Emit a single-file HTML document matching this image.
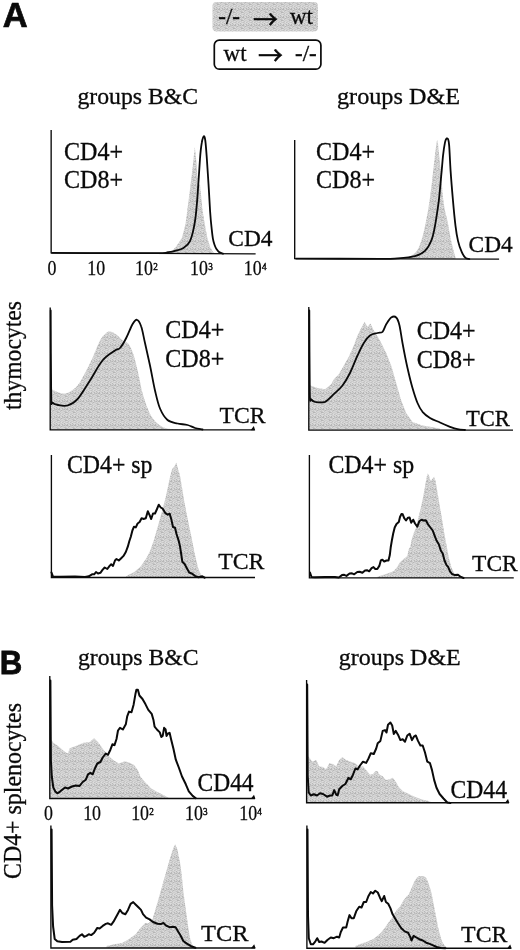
<!DOCTYPE html>
<html lang="en">
<head>
<meta charset="utf-8">
<title>Figure</title>
<style>
html,body{margin:0;padding:0;background:#fff;}
body{width:520px;height:950px;overflow:hidden;}
svg{display:block;filter:grayscale(1);}
text{fill:#0a0a0a;}
</style>
</head>
<body>
<svg width="520" height="950" viewBox="0 0 520 950">
<defs>
<pattern id="stip" x="0" y="0" width="8" height="8" patternUnits="userSpaceOnUse">
<rect x="0" y="0" width="1" height="1" fill="#cecece"/>
<rect x="1" y="0" width="1" height="1" fill="#c2c2c2"/>
<rect x="2" y="0" width="1" height="1" fill="#d6d6d6"/>
<rect x="3" y="0" width="1" height="1" fill="#b6b6b6"/>
<rect x="4" y="0" width="1" height="1" fill="#d6d6d6"/>
<rect x="5" y="0" width="1" height="1" fill="#cecece"/>
<rect x="6" y="0" width="1" height="1" fill="#b6b6b6"/>
<rect x="7" y="0" width="1" height="1" fill="#d6d6d6"/>
<rect x="0" y="1" width="1" height="1" fill="#b6b6b6"/>
<rect x="1" y="1" width="1" height="1" fill="#cecece"/>
<rect x="2" y="1" width="1" height="1" fill="#b6b6b6"/>
<rect x="3" y="1" width="1" height="1" fill="#b6b6b6"/>
<rect x="4" y="1" width="1" height="1" fill="#cecece"/>
<rect x="5" y="1" width="1" height="1" fill="#dedede"/>
<rect x="6" y="1" width="1" height="1" fill="#c2c2c2"/>
<rect x="7" y="1" width="1" height="1" fill="#c2c2c2"/>
<rect x="0" y="2" width="1" height="1" fill="#d6d6d6"/>
<rect x="1" y="2" width="1" height="1" fill="#cacaca"/>
<rect x="2" y="2" width="1" height="1" fill="#d6d6d6"/>
<rect x="3" y="2" width="1" height="1" fill="#cecece"/>
<rect x="4" y="2" width="1" height="1" fill="#cacaca"/>
<rect x="5" y="2" width="1" height="1" fill="#b6b6b6"/>
<rect x="6" y="2" width="1" height="1" fill="#cacaca"/>
<rect x="7" y="2" width="1" height="1" fill="#cecece"/>
<rect x="0" y="3" width="1" height="1" fill="#c2c2c2"/>
<rect x="1" y="3" width="1" height="1" fill="#c2c2c2"/>
<rect x="2" y="3" width="1" height="1" fill="#cecece"/>
<rect x="3" y="3" width="1" height="1" fill="#dedede"/>
<rect x="4" y="3" width="1" height="1" fill="#c2c2c2"/>
<rect x="5" y="3" width="1" height="1" fill="#d6d6d6"/>
<rect x="6" y="3" width="1" height="1" fill="#d6d6d6"/>
<rect x="7" y="3" width="1" height="1" fill="#cecece"/>
<rect x="0" y="4" width="1" height="1" fill="#d6d6d6"/>
<rect x="1" y="4" width="1" height="1" fill="#b6b6b6"/>
<rect x="2" y="4" width="1" height="1" fill="#b6b6b6"/>
<rect x="3" y="4" width="1" height="1" fill="#c2c2c2"/>
<rect x="4" y="4" width="1" height="1" fill="#d6d6d6"/>
<rect x="5" y="4" width="1" height="1" fill="#cecece"/>
<rect x="6" y="4" width="1" height="1" fill="#cecece"/>
<rect x="7" y="4" width="1" height="1" fill="#d6d6d6"/>
<rect x="0" y="5" width="1" height="1" fill="#cecece"/>
<rect x="1" y="5" width="1" height="1" fill="#cecece"/>
<rect x="2" y="5" width="1" height="1" fill="#dedede"/>
<rect x="3" y="5" width="1" height="1" fill="#d6d6d6"/>
<rect x="4" y="5" width="1" height="1" fill="#c2c2c2"/>
<rect x="5" y="5" width="1" height="1" fill="#d6d6d6"/>
<rect x="6" y="5" width="1" height="1" fill="#d6d6d6"/>
<rect x="7" y="5" width="1" height="1" fill="#cacaca"/>
<rect x="0" y="6" width="1" height="1" fill="#dedede"/>
<rect x="1" y="6" width="1" height="1" fill="#cecece"/>
<rect x="2" y="6" width="1" height="1" fill="#cacaca"/>
<rect x="3" y="6" width="1" height="1" fill="#c2c2c2"/>
<rect x="4" y="6" width="1" height="1" fill="#cecece"/>
<rect x="5" y="6" width="1" height="1" fill="#dedede"/>
<rect x="6" y="6" width="1" height="1" fill="#c2c2c2"/>
<rect x="7" y="6" width="1" height="1" fill="#cecece"/>
<rect x="0" y="7" width="1" height="1" fill="#b6b6b6"/>
<rect x="1" y="7" width="1" height="1" fill="#d6d6d6"/>
<rect x="2" y="7" width="1" height="1" fill="#dedede"/>
<rect x="3" y="7" width="1" height="1" fill="#d6d6d6"/>
<rect x="4" y="7" width="1" height="1" fill="#cacaca"/>
<rect x="5" y="7" width="1" height="1" fill="#cecece"/>
<rect x="6" y="7" width="1" height="1" fill="#d6d6d6"/>
<rect x="7" y="7" width="1" height="1" fill="#d6d6d6"/>
</pattern>
</defs>
<rect x="0" y="0" width="520" height="950" fill="#ffffff"/>
<text x="2.7" y="26.8" font-family='"Liberation Sans", sans-serif' font-size="34.5" font-weight="bold" text-anchor="start" stroke="#0a0a0a" stroke-width="0.7">A</text>
<rect x="212.5" y="2" width="105.5" height="29.5" rx="4" ry="4" fill="url(#stip)"/>
<rect x="214.3" y="40.2" width="106.6" height="29" rx="5" ry="5" fill="#fff" stroke="#0a0a0a" stroke-width="1.7"/>
<text x="218.3" y="24.2" font-family='"Liberation Serif", serif' font-size="23" font-weight="normal" text-anchor="start" stroke="#0a0a0a" stroke-width="0.35">-/-</text>
<text x="252.9" y="28.6" font-family='"Noto Sans CJK SC", "DejaVu Sans", sans-serif' font-size="25" font-weight="normal" text-anchor="start" stroke="#0a0a0a" stroke-width="0.5">→</text>
<text x="290" y="24.2" font-family='"Liberation Serif", serif' font-size="23" font-weight="normal" text-anchor="start" stroke="#0a0a0a" stroke-width="0.3">wt</text>
<text x="223.6" y="60.6" font-family='"Liberation Serif", serif' font-size="23" font-weight="normal" text-anchor="start" stroke="#0a0a0a" stroke-width="0.3">wt</text>
<text x="257.9" y="64.6" font-family='"Noto Sans CJK SC", "DejaVu Sans", sans-serif' font-size="25" font-weight="normal" text-anchor="start" stroke="#0a0a0a" stroke-width="0.5">→</text>
<text x="295" y="60.6" font-family='"Liberation Serif", serif' font-size="23" font-weight="normal" text-anchor="start" stroke="#0a0a0a" stroke-width="0.35">-/-</text>
<text x="77.5" y="104" font-family='"Liberation Serif", serif' font-size="22.5" font-weight="normal" text-anchor="start" textLength="120.5" lengthAdjust="spacingAndGlyphs" stroke="#0a0a0a" stroke-width="0.3">groups B&amp;C</text>
<text x="337" y="104" font-family='"Liberation Serif", serif' font-size="22.5" font-weight="normal" text-anchor="start" textLength="123" lengthAdjust="spacingAndGlyphs" stroke="#0a0a0a" stroke-width="0.3">groups D&amp;E</text>
<path d="M170.5,252.6 L175.3,247.6 L179.0,242.6 L182.0,237.6 L185.5,224.1 L189.0,197.1 L192.4,169.6 L194.8,147.1 L196.3,161.1 L198.4,187.2 L199.9,183.4 L202.6,210.7 L205.0,225.2 L207.4,238.1 L210.0,246.7 L212.9,251.7 L214.5,253.0 L214.5,253.5 L170.5,253.5 Z" fill="url(#stip)" stroke="none"/>
<path d="M51.15,130 L51.15,252.9 L255.6,253.8" fill="none" stroke="#0a0a0a" stroke-width="1.35" stroke-linejoin="miter"/>
<path d="M52.0,252.9 C63.3,253.0 102.0,253.2 120.0,253.2 C138.0,253.3 152.0,253.3 160.0,253.2 C168.0,253.0 165.5,252.6 168.0,252.2 C170.5,251.8 172.6,251.5 175.0,250.8 C177.4,250.2 180.0,250.2 182.5,248.6 C185.0,247.0 187.9,245.7 190.0,241.1 C192.1,236.5 193.8,228.6 195.0,221.1 C196.2,213.6 196.7,206.6 197.5,196.1 C198.3,185.7 199.3,167.6 200.0,158.7 C200.7,149.7 201.2,146.2 201.8,142.7 C202.3,139.1 202.8,138.3 203.2,137.2 C203.6,136.1 203.7,136.1 204.0,136.2 C204.3,136.3 204.5,136.5 204.8,137.7 C205.1,138.8 205.3,140.0 205.6,143.2 C205.9,146.3 206.2,149.8 206.7,156.6 C207.2,163.4 207.9,174.8 208.5,183.9 C209.1,193.0 209.6,204.1 210.1,211.3 C210.6,218.5 211.0,222.7 211.5,227.2 C212.0,231.8 212.4,235.7 212.9,238.6 C213.4,241.5 213.9,243.0 214.5,244.7 C215.1,246.4 215.6,247.5 216.3,248.7 C217.1,249.9 217.9,251.2 219.0,252.0 C220.1,252.9 222.3,253.4 223.0,253.7" fill="none" stroke="#0a0a0a" stroke-width="1.8" stroke-linejoin="round" stroke-linecap="round"/>
<text x="64" y="160" font-family='"Liberation Serif", serif' font-size="24.3" font-weight="normal" text-anchor="start" textLength="59" lengthAdjust="spacingAndGlyphs" stroke="#0a0a0a" stroke-width="0.3">CD4+</text>
<text x="64" y="188.3" font-family='"Liberation Serif", serif' font-size="24.3" font-weight="normal" text-anchor="start" textLength="59" lengthAdjust="spacingAndGlyphs" stroke="#0a0a0a" stroke-width="0.3">CD8+</text>
<text x="228.3" y="246.3" font-family='"Liberation Serif", serif' font-size="23.8" font-weight="normal" text-anchor="start" textLength="44.2" lengthAdjust="spacingAndGlyphs" stroke="#0a0a0a" stroke-width="0.3">CD4</text>
<text transform="translate(52,275.3) scale(0.89,1)" font-family='"Liberation Serif", serif' font-size="20.1" text-anchor="middle" stroke="#0a0a0a" stroke-width="0.25">0</text>
<text transform="translate(96.3,275.3) scale(0.89,1)" font-family='"Liberation Serif", serif' font-size="20.1" text-anchor="middle" stroke="#0a0a0a" stroke-width="0.25">10</text>
<text transform="translate(146.4,275.3) scale(0.89,1)" font-family='"Liberation Serif", serif' font-size="20.1" text-anchor="middle" stroke="#0a0a0a" stroke-width="0.25">10<tspan font-size="10.3" dy="-5.2" dx="0.3" stroke-width="0.45">2</tspan></text>
<text transform="translate(201.4,275.3) scale(0.89,1)" font-family='"Liberation Serif", serif' font-size="20.1" text-anchor="middle" stroke="#0a0a0a" stroke-width="0.25">10<tspan font-size="10.3" dy="-5.2" dx="0.3" stroke-width="0.45">3</tspan></text>
<text transform="translate(255.2,275.3) scale(0.89,1)" font-family='"Liberation Serif", serif' font-size="20.1" text-anchor="middle" stroke="#0a0a0a" stroke-width="0.25">10<tspan font-size="10.3" dy="-5.2" dx="0.3" stroke-width="0.45">4</tspan></text>
<path d="M408.4,257.3 C409.3,256.7 412.2,255.3 413.9,253.8 C415.6,252.3 416.8,251.7 418.4,248.3 C420.0,244.9 421.7,240.0 423.4,233.3 C425.1,226.7 426.9,217.1 428.4,208.3 C429.8,199.6 431.0,190.0 432.1,180.8 C433.2,171.7 434.3,160.1 435.2,153.3 C436.1,146.6 436.7,140.3 437.3,140.3 C437.9,140.4 438.3,147.4 439.0,153.4 C439.7,159.3 440.5,167.5 441.2,175.9 C442.0,184.2 442.7,195.9 443.8,203.4 C444.8,210.9 446.2,214.6 447.5,220.9 C448.8,227.1 449.9,234.8 451.2,240.9 C452.6,247.0 454.8,254.6 455.5,257.4 L455.5,258.90000000000003 L408.4,258.90000000000003 Z" fill="url(#stip)" stroke="none"/>
<path d="M294.7,140 L294.7,258.6 L499.1,259.1" fill="none" stroke="#0a0a0a" stroke-width="1.35" stroke-linejoin="miter"/>
<path d="M296.0,258.6 C310.0,258.6 363.1,258.9 380.0,258.8 C396.9,258.8 391.7,258.8 397.5,258.4 C403.3,257.9 410.4,257.3 415.0,256.1 C419.6,254.8 422.3,253.4 425.0,250.8 C427.7,248.3 429.6,245.0 431.2,240.8 C432.9,236.7 433.8,232.5 435.0,225.8 C436.2,219.2 437.7,209.2 438.8,200.9 C439.8,192.5 440.5,183.4 441.2,175.9 C442.0,168.4 442.4,161.4 443.0,155.9 C443.6,150.3 444.4,145.2 445.0,142.4 C445.6,139.5 445.9,139.5 446.3,138.9 C446.7,138.2 447.0,138.2 447.3,138.4 C447.6,138.5 448.0,138.6 448.3,139.9 C448.6,141.1 448.8,140.7 449.2,145.9 C449.6,151.0 450.0,161.7 450.6,170.9 C451.2,180.0 452.2,191.7 453.0,200.9 C453.8,210.1 454.7,219.2 455.5,225.9 C456.3,232.6 457.0,236.6 458.0,240.9 C459.0,245.2 460.4,249.1 461.7,251.9 C462.9,254.7 464.2,256.7 465.5,257.9 C466.8,259.1 468.7,258.8 469.3,259.0" fill="none" stroke="#0a0a0a" stroke-width="1.8" stroke-linejoin="round" stroke-linecap="round"/>
<text x="316" y="160" font-family='"Liberation Serif", serif' font-size="24.3" font-weight="normal" text-anchor="start" textLength="59" lengthAdjust="spacingAndGlyphs" stroke="#0a0a0a" stroke-width="0.3">CD4+</text>
<text x="316" y="188.3" font-family='"Liberation Serif", serif' font-size="24.3" font-weight="normal" text-anchor="start" textLength="59" lengthAdjust="spacingAndGlyphs" stroke="#0a0a0a" stroke-width="0.3">CD8+</text>
<text x="468.6" y="251.7" font-family='"Liberation Serif", serif' font-size="23.8" font-weight="normal" text-anchor="start" textLength="44.2" lengthAdjust="spacingAndGlyphs" stroke="#0a0a0a" stroke-width="0.3">CD4</text>
<path d="M50.4,388.8 C52.0,389.5 57.1,392.3 60.0,393.0 C62.9,393.7 64.6,394.2 67.5,393.0 C70.4,391.8 74.6,388.8 77.5,385.5 C80.4,382.2 82.5,377.6 85.0,373.0 C87.5,368.4 90.0,363.4 92.5,358.0 C95.0,352.6 97.7,344.7 100.0,340.5 C102.3,336.3 104.4,334.5 106.2,333.0 C108.1,331.5 109.4,331.3 111.2,331.8 C113.1,332.2 115.6,334.0 117.5,335.5 C119.4,337.0 120.6,339.0 122.5,340.5 C124.4,342.0 126.9,341.8 128.8,344.2 C130.6,346.8 132.1,350.3 133.8,355.5 C135.4,360.7 137.3,369.2 138.8,375.5 C140.2,381.8 141.0,387.6 142.5,393.0 C144.0,398.4 145.8,403.8 147.5,408.0 C149.2,412.2 150.4,415.1 152.5,418.0 C154.6,420.9 157.5,423.8 160.0,425.5 C162.5,427.2 164.2,427.8 167.5,428.5 C170.8,429.2 177.9,429.3 180.0,429.5 L180.0,429.9 L50.4,429.9 Z" fill="url(#stip)" stroke="none"/>
<path d="M50.2,307.5 L50.2,429.9 L254.8,429.9" fill="none" stroke="#0a0a0a" stroke-width="1.35" stroke-linejoin="miter"/>
<path d="M250.60000000000002,430.2 L253.8,426.09999999999997 L255.20000000000002,430.2 Z" fill="#0a0a0a"/>
<path d="M50.7,310.5 C50.8,324.7 50.9,380.2 51.2,395.5 C51.5,410.8 51.4,400.9 52.5,402.5 C53.6,404.1 55.5,404.5 58.0,405.0 C60.5,405.5 64.2,406.5 67.5,405.5 C70.8,404.5 73.8,403.4 77.5,399.2 C81.2,395.1 85.8,387.0 90.0,380.5 C94.2,374.0 98.3,365.5 102.5,360.5 C106.7,355.5 112.1,352.6 115.0,350.5 C117.9,348.4 118.1,350.1 120.0,348.0 C121.9,345.9 124.2,342.0 126.2,338.0 C128.3,334.0 130.7,327.3 132.5,324.2 C134.3,321.2 135.5,319.4 137.0,319.8 C138.5,320.1 139.9,322.6 141.2,326.5 C142.6,330.4 143.5,336.5 145.0,343.0 C146.5,349.5 148.3,357.6 150.0,365.5 C151.7,373.4 153.3,383.3 155.0,390.5 C156.7,397.7 157.9,403.6 160.0,408.5 C162.1,413.4 164.6,417.5 167.5,420.0 C170.4,422.5 174.2,422.7 177.5,423.5 C180.8,424.3 184.6,424.2 187.5,425.0 C190.4,425.8 192.5,427.2 195.0,428.0 C197.5,428.8 201.2,429.2 202.5,429.5" fill="none" stroke="#0a0a0a" stroke-width="1.8" stroke-linejoin="round" stroke-linecap="round"/>
<text x="165.3" y="338" font-family='"Liberation Serif", serif' font-size="24.3" font-weight="normal" text-anchor="start" textLength="59" lengthAdjust="spacingAndGlyphs" stroke="#0a0a0a" stroke-width="0.3">CD4+</text>
<text x="165.3" y="367.3" font-family='"Liberation Serif", serif' font-size="24.3" font-weight="normal" text-anchor="start" textLength="59" lengthAdjust="spacingAndGlyphs" stroke="#0a0a0a" stroke-width="0.3">CD8+</text>
<text x="219.6" y="422.8" font-family='"Liberation Serif", serif' font-size="23.8" font-weight="normal" text-anchor="start" textLength="46" lengthAdjust="spacingAndGlyphs" stroke="#0a0a0a" stroke-width="0.3">TCR</text>
<text transform="translate(21,410) rotate(-90)" font-family='"Liberation Serif", serif' font-size="25" stroke="#0a0a0a" stroke-width="0.3" textLength="109" lengthAdjust="spacingAndGlyphs">thymocytes</text>
<path d="M309.0,385.0 L317.5,388.0 L325.0,389.2 L331.2,384.2 L333.8,379.2 L338.8,374.2 L343.8,365.5 L348.8,356.8 L353.8,345.5 L357.5,335.5 L361.2,328.0 L364.5,321.8 L367.5,326.8 L370.5,323.5 L373.8,330.5 L380.0,340.5 L386.2,353.0 L391.2,365.5 L396.2,383.0 L401.2,400.5 L406.2,413.0 L412.5,422.0 L422.5,425.5 L440.0,428.5 L440.0,429.9 L309.0,429.9 Z" fill="url(#stip)" stroke="none"/>
<path d="M308.8,307 L308.8,430.1 L513,430.1" fill="none" stroke="#0a0a0a" stroke-width="1.35" stroke-linejoin="miter"/>
<path d="M309.3,310.5 C309.4,324.2 309.5,377.7 309.8,392.5 C310.1,407.3 310.3,397.7 311.2,399.2 C312.1,400.8 312.7,401.3 315.0,401.8 C317.3,402.2 321.9,403.0 325.0,401.8 C328.1,400.5 330.8,397.0 333.8,394.2 C336.7,391.5 339.8,389.0 342.5,385.5 C345.2,382.0 347.5,378.0 350.0,373.0 C352.5,368.0 355.2,360.5 357.5,355.5 C359.8,350.5 361.7,346.3 363.8,343.0 C365.8,339.7 367.7,337.2 370.0,335.5 C372.3,333.8 375.4,333.6 377.5,333.0 C379.6,332.4 381.0,333.2 382.5,331.8 C384.0,330.3 384.8,326.6 386.2,324.2 C387.7,321.9 389.6,318.6 391.2,317.5 C392.9,316.4 394.9,316.2 396.2,317.5 C397.6,318.8 398.5,321.2 399.5,325.5 C400.5,329.8 401.2,335.9 402.5,343.0 C403.8,350.1 405.8,360.5 407.5,368.0 C409.2,375.5 410.8,382.2 412.5,388.0 C414.2,393.8 415.8,399.0 417.5,403.0 C419.2,407.0 420.4,409.2 422.5,411.8 C424.6,414.2 427.1,416.2 430.0,418.0 C432.9,419.8 436.7,421.0 440.0,422.5 C443.3,424.0 447.1,425.6 450.0,426.8 C452.9,427.9 455.0,428.7 457.5,429.2 C460.0,429.8 463.8,429.9 465.0,430.0" fill="none" stroke="#0a0a0a" stroke-width="1.8" stroke-linejoin="round" stroke-linecap="round"/>
<text x="416.7" y="338.5" font-family='"Liberation Serif", serif' font-size="24.3" font-weight="normal" text-anchor="start" textLength="59" lengthAdjust="spacingAndGlyphs" stroke="#0a0a0a" stroke-width="0.3">CD4+</text>
<text x="416.7" y="367.6" font-family='"Liberation Serif", serif' font-size="24.3" font-weight="normal" text-anchor="start" textLength="59" lengthAdjust="spacingAndGlyphs" stroke="#0a0a0a" stroke-width="0.3">CD8+</text>
<text x="466" y="425.7" font-family='"Liberation Serif", serif' font-size="23.3" font-weight="normal" text-anchor="start" textLength="43.8" lengthAdjust="spacingAndGlyphs" stroke="#0a0a0a" stroke-width="0.3">TCR</text>
<path d="M126.0,576.8 L128.0,575.1 L134.2,572.0 L140.4,566.7 L145.8,559.0 L149.6,552.0 L153.5,541.5 L157.0,529.3 L160.0,518.5 L163.0,507.8 L165.4,498.5 L167.7,487.8 L170.0,477.0 L172.3,468.5 L174.6,466.3 L176.2,462.5 L177.7,467.8 L180.0,475.5 L182.3,489.3 L184.6,503.2 L187.0,515.5 L189.2,526.3 L191.5,537.0 L193.8,549.3 L196.2,560.1 L198.5,569.3 L201.5,575.5 L203.8,577.0 L203.8,577.5 L126.0,577.5 Z" fill="url(#stip)" stroke="none"/>
<path d="M51.4,455 L51.4,577.5 L255,577.5" fill="none" stroke="#0a0a0a" stroke-width="1.35" stroke-linejoin="miter"/>
<path d="M51.5,572.5 L53.0,576.5 L60.0,576.7 L75.0,576.5 L85.0,577.0 L88.8,576.3 L92.0,574.3 L94.2,574.3 L96.0,572.0 L98.0,573.5 L100.4,572.8 L102.7,569.7 L104.7,567.5 L107.3,569.0 L109.6,565.9 L111.2,564.3 L113.0,565.9 L115.0,560.5 L116.5,559.0 L118.8,560.5 L121.2,558.2 L123.5,555.9 L125.8,552.0 L127.8,546.7 L129.3,541.3 L130.8,536.7 L132.4,530.5 L134.0,526.7 L135.8,527.4 L137.6,523.5 L139.6,522.0 L141.6,518.2 L143.5,519.0 L145.8,518.2 L147.8,511.3 L149.6,515.1 L151.2,519.0 L153.0,513.5 L155.0,513.5 L157.0,509.0 L158.8,504.7 L160.7,507.5 L162.7,508.7 L164.7,512.0 L165.4,513.2 L167.7,514.7 L169.7,513.7 L171.5,520.1 L173.0,527.0 L175.0,527.8 L176.5,534.0 L178.5,540.1 L180.0,546.3 L181.2,554.0 L182.3,561.7 L184.6,564.0 L187.0,568.5 L189.2,572.5 L192.3,573.7 L195.4,576.3 L198.5,577.3 L202.3,576.3 L204.6,577.7" fill="none" stroke="#0a0a0a" stroke-width="2.0" stroke-linejoin="round" stroke-linecap="round"/>
<text x="67" y="472.5" font-family='"Liberation Serif", serif' font-size="24.3" font-weight="normal" text-anchor="start" textLength="85.5" lengthAdjust="spacingAndGlyphs" stroke="#0a0a0a" stroke-width="0.3">CD4+ sp</text>
<text x="218.2" y="569.1" font-family='"Liberation Serif", serif' font-size="23.8" font-weight="normal" text-anchor="start" textLength="46.2" lengthAdjust="spacingAndGlyphs" stroke="#0a0a0a" stroke-width="0.3">TCR</text>
<path d="M377.5,576.8 L379.6,575.9 L387.3,573.5 L393.5,571.3 L396.5,568.0 L399.6,562.8 L403.5,559.0 L407.3,555.9 L408.8,549.0 L410.4,546.7 L411.2,541.3 L413.5,533.5 L415.8,528.2 L418.0,519.0 L420.4,509.7 L422.7,499.0 L425.0,486.7 L426.5,477.5 L427.8,473.5 L429.2,475.9 L430.7,481.3 L432.7,478.2 L434.2,476.7 L435.8,482.0 L437.3,491.3 L439.6,505.1 L442.0,519.0 L444.2,532.8 L446.5,545.1 L448.8,557.5 L451.2,566.7 L454.2,573.5 L457.3,576.7 L460.0,577.5 L460.0,577.9 L377.5,577.9 Z" fill="url(#stip)" stroke="none"/>
<path d="M309.4,455 L309.4,577.9 L513.75,577.9" fill="none" stroke="#0a0a0a" stroke-width="1.35" stroke-linejoin="miter"/>
<path d="M310.0,572.5 L311.5,577.0 L315.0,577.2 L325.0,577.1 L335.0,577.0 L338.8,577.5 L342.0,575.1 L344.2,574.8 L346.5,575.9 L349.6,573.5 L352.0,573.3 L354.2,574.3 L357.3,572.0 L359.6,571.7 L362.4,572.8 L365.0,570.5 L367.0,570.2 L369.2,571.3 L371.6,568.2 L373.5,567.1 L375.3,569.0 L377.3,569.0 L379.3,565.9 L380.8,560.5 L382.4,559.7 L384.2,561.5 L386.5,560.5 L388.5,560.5 L389.8,555.1 L390.7,547.5 L392.0,539.7 L393.2,533.5 L394.7,527.5 L396.5,524.0 L398.8,522.0 L400.0,517.0 L401.5,513.9 L402.7,514.3 L404.2,518.2 L406.0,520.5 L408.0,517.7 L409.6,517.5 L411.2,522.8 L413.2,519.7 L415.0,523.5 L417.3,526.7 L419.3,521.3 L421.5,519.7 L423.5,520.5 L425.8,520.2 L428.0,524.3 L430.4,527.5 L432.7,530.5 L434.7,535.9 L436.5,540.5 L438.8,544.3 L440.8,550.5 L442.7,553.5 L444.5,560.5 L446.5,565.1 L448.0,566.7 L450.0,571.3 L452.0,574.0 L455.0,575.1 L458.0,574.7 L460.4,576.7 L463.5,578.0" fill="none" stroke="#0a0a0a" stroke-width="2.0" stroke-linejoin="round" stroke-linecap="round"/>
<text x="328.4" y="473" font-family='"Liberation Serif", serif' font-size="24.3" font-weight="normal" text-anchor="start" textLength="85.8" lengthAdjust="spacingAndGlyphs" stroke="#0a0a0a" stroke-width="0.3">CD4+ sp</text>
<text x="472.1" y="571.2" font-family='"Liberation Serif", serif' font-size="23.8" font-weight="normal" text-anchor="start" textLength="45.6" lengthAdjust="spacingAndGlyphs" stroke="#0a0a0a" stroke-width="0.3">TCR</text>
<text x="-0.2" y="674.2" font-family='"Liberation Sans", sans-serif' font-size="34" font-weight="bold" text-anchor="start" textLength="22.5" lengthAdjust="spacingAndGlyphs" stroke="#0a0a0a" stroke-width="0.8">B</text>
<text x="78" y="664.7" font-family='"Liberation Serif", serif' font-size="22.5" font-weight="normal" text-anchor="start" textLength="120.5" lengthAdjust="spacingAndGlyphs" stroke="#0a0a0a" stroke-width="0.3">groups B&amp;C</text>
<text x="338.75" y="665.2" font-family='"Liberation Serif", serif' font-size="22.5" font-weight="normal" text-anchor="start" textLength="122" lengthAdjust="spacingAndGlyphs" stroke="#0a0a0a" stroke-width="0.3">groups D&amp;E</text>
<text transform="translate(21,879) rotate(-90)" font-family='"Liberation Serif", serif' font-size="25" stroke="#0a0a0a" stroke-width="0.3" textLength="176" lengthAdjust="spacingAndGlyphs">CD4+ splenocytes</text>
<path d="M50.0,738.5 L53.5,742.8 L58.8,746.5 L65.0,752.0 L68.0,753.5 L69.6,748.2 L75.8,745.9 L83.5,742.8 L89.6,742.0 L94.2,738.2 L98.0,742.0 L103.5,749.7 L108.0,755.1 L112.7,759.7 L118.8,763.5 L125.0,761.3 L129.6,762.8 L134.2,765.1 L138.0,770.5 L140.4,776.5 L145.0,782.0 L151.0,788.2 L157.3,792.0 L163.5,795.1 L168.8,797.9 L168.8,798.5 L50.0,798.5 Z" fill="url(#stip)" stroke="none"/>
<path d="M49.8,676 L49.8,798.5 L255,798.5" fill="none" stroke="#0a0a0a" stroke-width="1.35" stroke-linejoin="miter"/>
<path d="M250.8,798.8 L254.0,794.7 L255.4,798.8 Z" fill="#0a0a0a"/>
<path d="M50.4,680.5 L50.9,760.5 L51.8,776.5 L53.3,787.5 L55.3,791.5 L57.3,793.3 L60.4,791.3 L65.0,787.5 L68.0,788.5 L72.0,786.5 L75.8,785.5 L79.6,785.9 L82.7,782.0 L85.8,779.7 L88.0,774.3 L90.4,772.8 L92.7,774.3 L95.0,768.2 L97.3,763.5 L100.4,762.0 L102.7,757.5 L105.8,753.5 L108.0,754.8 L110.4,749.7 L112.4,744.3 L114.5,745.1 L116.5,739.0 L118.0,730.5 L120.0,727.8 L122.9,729.5 L125.8,724.3 L127.2,716.3 L129.0,711.6 L131.5,712.2 L133.6,704.7 L135.6,693.2 L136.4,689.7 L137.9,689.7 L139.4,695.5 L142.5,699.0 L145.4,704.1 L148.3,709.9 L151.7,713.9 L153.4,719.7 L154.6,726.6 L156.9,729.5 L159.8,732.4 L161.3,737.0 L162.7,735.9 L164.1,727.8 L165.6,729.5 L166.5,735.9 L168.0,733.5 L169.6,732.8 L171.2,739.7 L173.5,749.0 L175.8,759.7 L178.8,767.5 L182.0,776.5 L185.8,784.3 L188.8,791.3 L192.7,795.9 L195.8,798.2" fill="none" stroke="#0a0a0a" stroke-width="2.0" stroke-linejoin="round" stroke-linecap="round"/>
<text x="197.6" y="791.1" font-family='"Liberation Serif", serif' font-size="24.3" font-weight="normal" text-anchor="start" textLength="56" lengthAdjust="spacingAndGlyphs" stroke="#0a0a0a" stroke-width="0.3">CD44</text>
<text transform="translate(48.5,819.8) scale(0.89,1)" font-family='"Liberation Serif", serif' font-size="20.1" text-anchor="middle" stroke="#0a0a0a" stroke-width="0.25">0</text>
<text transform="translate(92.1,819.8) scale(0.89,1)" font-family='"Liberation Serif", serif' font-size="20.1" text-anchor="middle" stroke="#0a0a0a" stroke-width="0.25">10</text>
<text transform="translate(142.5,819.8) scale(0.89,1)" font-family='"Liberation Serif", serif' font-size="20.1" text-anchor="middle" stroke="#0a0a0a" stroke-width="0.25">10<tspan font-size="10.3" dy="-5.2" dx="0.3" stroke-width="0.45">2</tspan></text>
<text transform="translate(196.3,819.8) scale(0.89,1)" font-family='"Liberation Serif", serif' font-size="20.1" text-anchor="middle" stroke="#0a0a0a" stroke-width="0.25">10<tspan font-size="10.3" dy="-5.2" dx="0.3" stroke-width="0.45">3</tspan></text>
<text transform="translate(250.6,819.8) scale(0.89,1)" font-family='"Liberation Serif", serif' font-size="20.1" text-anchor="middle" stroke="#0a0a0a" stroke-width="0.25">10<tspan font-size="10.3" dy="-5.2" dx="0.3" stroke-width="0.45">4</tspan></text>
<path d="M306.8,754.5 L310.0,758.5 L312.3,761.7 L316.2,760.1 L319.2,766.3 L323.0,767.0 L326.2,769.3 L329.2,763.2 L333.0,764.0 L336.2,766.3 L339.2,760.1 L342.3,757.0 L346.2,760.1 L350.8,761.7 L355.4,763.2 L359.2,767.0 L363.0,766.3 L366.2,770.1 L370.0,774.7 L373.0,774.0 L375.4,770.9 L377.3,770.9 L379.6,774.7 L382.7,776.3 L385.8,780.1 L389.6,779.3 L392.7,777.8 L395.8,781.7 L398.8,787.0 L402.7,790.9 L407.3,793.2 L413.5,796.3 L421.2,799.3 L428.8,800.9 L432.0,802.5 L432.0,802.75 L306.8,802.75 Z" fill="url(#stip)" stroke="none"/>
<path d="M306.6,680 L306.6,802.75 L509.0,802.75" fill="none" stroke="#0a0a0a" stroke-width="1.35" stroke-linejoin="miter"/>
<path d="M504.8,803.05 L508.0,798.95 L509.4,803.05 Z" fill="#0a0a0a"/>
<path d="M307.2,684.5 L307.7,775.5 L308.7,792.5 L310.8,795.5 L313.8,794.3 L317.0,795.5 L320.0,793.2 L323.0,794.0 L327.0,796.7 L330.0,795.5 L332.3,795.5 L334.2,790.1 L336.2,794.7 L337.7,795.2 L339.2,789.3 L342.3,786.0 L345.4,784.0 L348.5,777.8 L350.8,779.3 L353.0,774.7 L355.4,768.5 L357.7,769.3 L360.0,765.5 L363.0,761.7 L366.2,762.9 L368.5,758.5 L370.8,753.2 L373.8,754.0 L376.2,748.5 L377.7,743.2 L380.4,740.9 L382.7,730.9 L385.0,730.1 L386.5,732.5 L388.0,724.7 L390.4,722.5 L392.2,725.5 L393.8,734.0 L395.8,730.9 L398.0,734.7 L400.4,740.1 L402.7,739.3 L405.0,741.7 L407.3,735.5 L409.6,733.7 L412.0,740.1 L414.2,736.3 L415.8,735.5 L418.0,740.9 L420.4,745.5 L422.7,745.5 L425.0,752.5 L427.3,761.7 L430.0,763.2 L432.0,770.1 L434.2,780.1 L436.5,787.8 L439.6,794.0 L443.5,798.5 L447.3,802.5 L450.4,803.1" fill="none" stroke="#0a0a0a" stroke-width="2.0" stroke-linejoin="round" stroke-linecap="round"/>
<text x="450.5" y="797.6" font-family='"Liberation Serif", serif' font-size="24.3" font-weight="normal" text-anchor="start" textLength="56.5" lengthAdjust="spacingAndGlyphs" stroke="#0a0a0a" stroke-width="0.3">CD44</text>
<path d="M106.5,945.9 L114.2,944.3 L122.0,943.1 L128.8,939.3 L135.8,934.1 L141.0,927.2 L145.3,922.9 L148.7,922.9 L152.2,920.3 L154.8,911.6 L158.3,899.5 L161.7,887.4 L165.2,875.3 L168.6,863.2 L171.2,854.5 L173.8,846.7 L175.2,844.2 L177.3,849.3 L179.9,861.5 L181.6,873.5 L183.3,890.9 L185.1,904.7 L186.8,916.8 L188.5,928.9 L190.3,939.3 L192.9,946.2 L195.0,947.5 L195.0,948.0 L106.5,948.0 Z" fill="url(#stip)" stroke="none"/>
<path d="M50.9,825.5 L50.9,948.0 L255.2,948.0" fill="none" stroke="#0a0a0a" stroke-width="1.35" stroke-linejoin="miter"/>
<path d="M251.0,948.3 L254.2,944.2 L255.6,948.3 Z" fill="#0a0a0a"/>
<path d="M51.6,829.5 L52.1,905.5 L53.1,926.5 L54.7,939.0 L57.3,941.3 L62.0,942.0 L70.4,941.7 L72.7,939.7 L76.5,939.0 L79.6,935.9 L82.0,934.3 L84.2,936.7 L86.5,935.9 L88.8,934.3 L91.2,935.1 L94.2,932.8 L97.3,927.9 L99.6,928.5 L102.7,925.9 L105.8,923.9 L108.0,923.3 L111.2,924.8 L113.5,921.7 L115.8,917.5 L118.0,913.5 L120.0,909.8 L122.3,913.0 L125.4,914.2 L128.0,909.9 L130.6,903.8 L133.2,902.1 L135.8,904.7 L138.4,907.3 L141.0,909.9 L143.0,914.2 L146.1,917.7 L149.6,919.4 L153.0,922.0 L157.4,923.7 L160.8,924.1 L163.4,922.9 L166.0,925.5 L169.5,927.2 L173.0,926.8 L175.6,927.2 L178.1,931.5 L180.7,935.8 L183.3,941.0 L186.8,943.6 L191.1,946.2 L195.4,947.8" fill="none" stroke="#0a0a0a" stroke-width="2.0" stroke-linejoin="round" stroke-linecap="round"/>
<text x="201.1" y="941.3" font-family='"Liberation Serif", serif' font-size="23.8" font-weight="normal" text-anchor="start" textLength="47.4" lengthAdjust="spacingAndGlyphs" stroke="#0a0a0a" stroke-width="0.3">TCR</text>
<path d="M355.4,945.9 L361.5,943.5 L367.7,941.5 L373.8,938.8 L380.4,933.2 L384.7,928.0 L388.2,922.8 L391.6,918.5 L394.2,914.1 L396.8,909.8 L400.3,906.3 L402.9,901.2 L405.5,897.7 L408.9,894.2 L411.5,888.2 L414.1,882.1 L416.7,877.8 L419.3,876.1 L423.6,876.1 L426.2,877.8 L428.8,883.9 L431.4,892.5 L433.1,901.2 L434.9,910.7 L436.6,919.3 L438.3,928.0 L440.1,934.9 L441.8,940.9 L444.4,945.3 L447.0,947.9 L447.0,948.2 L355.4,948.2 Z" fill="url(#stip)" stroke="none"/>
<path d="M306.9,825.5 L306.9,948.2 L511.25,948.2" fill="none" stroke="#0a0a0a" stroke-width="1.35" stroke-linejoin="miter"/>
<path d="M507.05,948.5 L510.25,944.4000000000001 L511.65,948.5 Z" fill="#0a0a0a"/>
<path d="M307.5,829.5 L308.0,915.5 L308.8,938.2 L310.8,944.3 L313.0,944.3 L315.4,941.3 L317.2,938.2 L319.2,942.0 L321.5,941.5 L324.6,942.8 L327.7,939.7 L330.8,937.5 L333.8,938.2 L337.0,936.7 L339.2,937.5 L340.8,932.0 L343.0,927.5 L346.2,927.5 L347.7,921.3 L349.5,915.1 L351.5,918.2 L353.8,918.2 L356.2,911.3 L359.2,906.7 L361.5,907.5 L363.8,902.0 L366.2,902.0 L368.5,895.9 L370.8,892.0 L373.0,893.5 L375.3,890.7 L377.8,892.5 L380.0,897.7 L381.8,901.2 L384.2,896.0 L385.9,902.0 L388.2,903.8 L390.4,908.1 L392.5,914.1 L395.1,918.5 L397.7,922.8 L401.1,928.0 L404.6,931.4 L408.1,932.8 L410.1,936.6 L411.5,940.5 L413.6,935.8 L416.4,937.5 L419.3,939.2 L422.8,940.5 L426.2,942.7 L429.7,943.9 L433.1,945.3 L436.6,947.0 L440.9,947.9 L445.3,948.2" fill="none" stroke="#0a0a0a" stroke-width="2.0" stroke-linejoin="round" stroke-linecap="round"/>
<text x="461.1" y="942.4" font-family='"Liberation Serif", serif' font-size="23.8" font-weight="normal" text-anchor="start" textLength="46.3" lengthAdjust="spacingAndGlyphs" stroke="#0a0a0a" stroke-width="0.3">TCR</text>
</svg>
</body>
</html>
